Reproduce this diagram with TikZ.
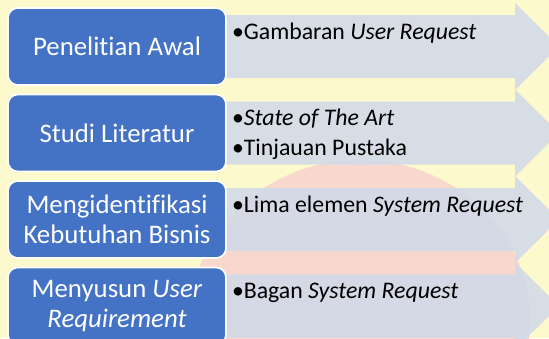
\documentclass[tikz,border=0pt]{standalone}
\usepackage{fontspec}
\setmainfont{Carlito}[Ligatures=NoCommon]
\usepackage{xcolor}
\usetikzlibrary{positioning, calc}
\definecolor{stBlue}{RGB}{68, 114, 196}
\definecolor{stArrow}{RGB}{208, 216, 234}
\definecolor{stPaper}{RGB}{252, 250, 204}
\definecolor{stMark}{RGB}{248, 216, 204}
\tikzset{
    stage/.style={
        rectangle,
        rounded corners=3.5mm,
        draw=white,
        line width=1.6pt,
        fill=stBlue,
        text=white,
        align=center,
        minimum width=218pt,
        minimum height=77pt,
        font=\fontsize{26.8}{29.5}\selectfont
    },
    band/.style={
        fill=stArrow,
        fill opacity=0.85
    },
    point/.style={
        anchor=base west,
        inner sep=0pt,
        font=\fontsize{23.8}{30}\selectfont
    }
}

\begin{document}
\begin{tikzpicture}[x=1pt, y=-1pt]
  \useasboundingbox (0,0) rectangle (549,338);
  \clip (0,0) rectangle (549,338);

  % Background
  \fill[stPaper] (0,0) rectangle (549,338);
  \fill[stMark] (360,320) ellipse (170 and 160);

  % Arrows
  \foreach \c in {46.5, 133, 219.5, 306} {
    \fill[band] (215,\c-31.5) -- (515,\c-31.5) -- (515,\c-43.5) -- (559,\c)
      -- (515,\c+43.5) -- (515,\c+31.5) -- (215,\c+31.5) -- cycle;
  }

  % Stages
  \node[stage] (s1) at (117,46.5) {Penelitian Awal};
  \node[stage, below=7.9pt of s1] (s2) {Studi Literatur};
  \node[stage, below=7.9pt of s2] (s3) {Mengidentifikasi\\Kebutuhan Bisnis};
  \node[stage, below=7.9pt of s3] (s4) {Menyusun \textit{User}\\\textit{Requirement}};

  % Points
  \node[point] (p1) at ($(s1.east)+(5,-7.5)$) {•Gambaran \textit{User Request}};
  \node[point] (p2) at ($(s2.east)+(5,-8)$) {•\textit{State of The Art}};
  \node[point] (p2b) at ($(p2.base west)+(0,30)$) {•Tinjauan Pustaka};
  \node[point] (p3) at ($(s3.east)+(5,-7)$) {•Lima elemen \textit{System Request}};
  \node[point] (p4) at ($(s4.east)+(5,-8)$) {•Bagan \textit{System Request}};
\end{tikzpicture}
\end{document}
